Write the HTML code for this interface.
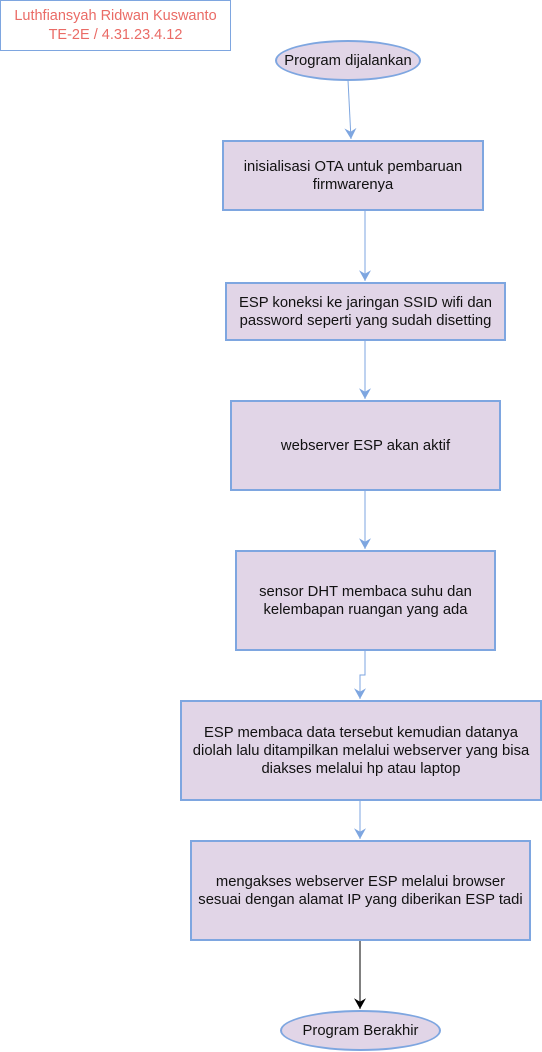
<!DOCTYPE html>
<html><head><meta charset="utf-8"><style>
body{margin:0;width:542px;height:1052px;background:#fff;overflow:hidden;position:relative;font-family:"Liberation Sans",Arial,sans-serif;}
.b{position:absolute;box-sizing:border-box;background:#e1d5e7;border:2px solid #7ea6e0;display:flex;align-items:center;justify-content:center;text-align:center;font-size:14.8px;line-height:18px;color:#111;}
.e{border-radius:50%;}
</style></head><body>
<div class="b" style="left:0;top:0;width:231px;height:51px;background:#fff;border:1px solid #7ea6e0;color:#ea6b66;font-size:14.5px;line-height:19px;">Luthfiansyah Ridwan Kuswanto<br>TE-2E / 4.31.23.4.12</div>
<svg style="position:absolute;left:0;top:0" width="542" height="1052">
<defs>
<marker id="a" markerWidth="12" markerHeight="12" refX="9" refY="5" orient="auto" markerUnits="userSpaceOnUse" viewBox="0 0 10 10"><path d="M0,0 L9,5 L0,10 L3,5z" fill="#7ea6e0"/></marker>
<marker id="k" markerWidth="12" markerHeight="12" refX="9" refY="5" orient="auto" markerUnits="userSpaceOnUse" viewBox="0 0 10 10"><path d="M0,0 L9,5 L0,10 L3,5z" fill="#000"/></marker>
</defs>
<g stroke="#7ea6e0" fill="none" stroke-width="1">
<path d="M348 80 L351 139" marker-end="url(#a)"/>
<path d="M365 211 L365 281" marker-end="url(#a)"/>
<path d="M365 341 L365 399" marker-end="url(#a)"/>
<path d="M365 491 L365 549" marker-end="url(#a)"/>
<path d="M365 651 L365 675 L360 675 L360 699" marker-end="url(#a)"/>
<path d="M360 801 L360 839" marker-end="url(#a)"/>
</g>
<path d="M360 941 L360 1009" stroke="#000" fill="none" marker-end="url(#k)"/>
</svg>
<div class="b e" style="left:275px;top:40px;width:146px;height:41px;">Program dijalankan</div>
<div class="b" style="left:222px;top:140px;width:262px;height:71px;">inisialisasi OTA untuk pembaruan<br>firmwarenya</div>
<div class="b" style="left:225px;top:282px;width:281px;height:59px;">ESP koneksi ke jaringan SSID wifi dan<br>password seperti yang sudah disetting</div>
<div class="b" style="left:230px;top:400px;width:271px;height:91px;">webserver ESP akan aktif</div>
<div class="b" style="left:235px;top:550px;width:261px;height:101px;">sensor DHT membaca suhu dan<br>kelembapan ruangan yang ada</div>
<div class="b" style="left:180px;top:700px;width:362px;height:101px;">ESP membaca data tersebut kemudian datanya<br>diolah lalu ditampilkan melalui webserver yang bisa<br>diakses melalui hp atau laptop</div>
<div class="b" style="left:190px;top:840px;width:341px;height:101px;">mengakses webserver ESP melalui browser<br>sesuai dengan alamat IP yang diberikan ESP tadi</div>
<div class="b e" style="left:280px;top:1010px;width:161px;height:41px;">Program Berakhir</div>
</body></html>
